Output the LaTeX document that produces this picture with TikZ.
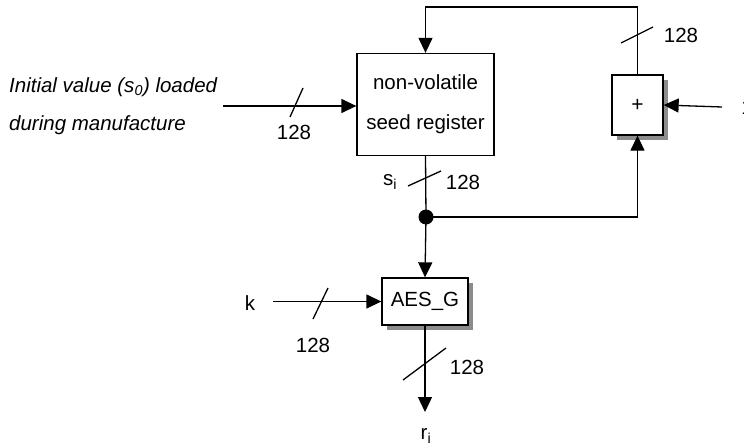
\documentclass[tikz,border=0pt]{standalone}
\usepackage{fontspec}
\setmainfont{Liberation Sans}
\usetikzlibrary{arrows.meta,shadows,calc}
\begin{document}
\begin{tikzpicture}[x=1pt,y=-1pt,
  wire/.style={line width=1.3pt},
  arr/.style={wire,-{Triangle[length=15pt,width=14pt]}},
  slash/.style={line width=1.3pt},
  blk/.style={draw,line width=1.3pt,fill=white,inner sep=0pt},
  shad/.style={blk,drop shadow={shadow xshift=5pt,shadow yshift=-5pt,fill=gray!90,opacity=1}},
  lbl/.style={font=\fontsize{20.5}{24}\selectfont,inner sep=0pt},
  itl/.style={font=\fontsize{20.5}{24}\selectfont\itshape,inner sep=0pt,anchor=west}
]
\useasboundingbox (0,0) rectangle (744,444);

% blocks
\node[blk,minimum width=137pt,minimum height=102pt,align=center,
      font=\fontsize{20.5}{40}\selectfont] (reg) at (425.5,104.5) {non-volatile\\seed register};
\node[shad,minimum width=51pt,minimum height=60pt,font=\fontsize{21}{24}\selectfont] (plus) at (637.5,105) {+};
\node[shad,minimum width=86pt,minimum height=47pt,font=\fontsize{20.5}{24}\selectfont] (aes) at (425,301.5) {AES\_G};
\node[circle,fill=black,inner sep=0pt,minimum size=15pt] (dot) at (426,217) {};

% labels
\node[itl] (init1) at (9,87) {Initial value (s\textsubscript{0}) loaded};
\node[itl] (init2) at (9,125) {during manufacture};
\node[lbl] (k) at (250,303) {k};
\node[lbl] (one) at (747,107) {1};
\node[lbl] (si) at (390,182) {s\textsubscript{i}};
\node[lbl] (ri) at (426,436) {r\textsubscript{i}};
\node[lbl] (n1) at (294,132) {128};
\node[lbl] (n2) at (463,182) {128};
\node[lbl] (n3) at (681,35) {128};
\node[lbl] (n4) at (313,345) {128};
\node[lbl] (n5) at (467,367) {128};

% free ends
\coordinate (inl) at (223,106);
\coordinate (kin) at (273,301.5);
\coordinate (onein) at (722,107);
\coordinate (rout) at (425,412);
\coordinate (topy) at (0,7);

% connectors
\draw[arr] (plus.north) -- (plus.north |- topy) -- (reg.north |- topy) -- (reg.north);
\draw[arr] (inl) -- (inl -| reg.west);
\draw[wire] (reg.south) -- (dot.center);
\draw[arr] (dot.center) -- (dot.center -| plus.south) -- (plus.south);
\draw[arr] (dot.center) -- (aes.north);
\draw[arr] (kin) -- (aes.west);
\draw[arr] (onein) -- (plus.east);
\draw[arr] (aes.south) -- (rout);

% bus-width slashes
\draw[slash] (290,117) -- (303,88);
\draw[slash] (408,186) -- (441,171);
\draw[slash] (621,43) -- (653,27);
\draw[slash] (313,319) -- (328,288);
\draw[slash] (403,380) -- (446,348);
\end{tikzpicture}
\end{document}
